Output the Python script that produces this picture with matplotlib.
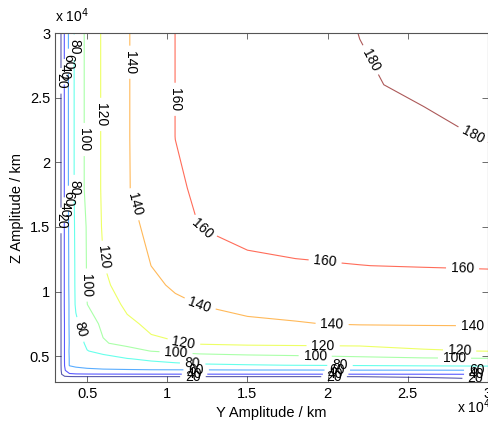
import numpy as np
import matplotlib
matplotlib.use('Agg')
import matplotlib.pyplot as plt

plt.rcParams['font.family'] = ['Liberation Sans', 'DejaVu Sans']

# grid (km)
y_amp = [3000, 3300, 3600, 3900, 4300, 5000, 6000, 7500, 9000, 10500,
         12000, 15000, 18000, 22000, 26000, 30000]
z_amp = [3000, 3300, 3600, 3900, 4300, 4800, 5400, 6000, 7500, 9000,
         10500, 12000, 15000, 18000, 22000, 26000, 30000]

# field values, one row per z_amp entry
field = [
    [5, 5, 5, 5, 5, 5, 5, 5, 5, 5, 5, 5, 5, 5, 6, 8],
    [5, 7, 8, 8, 8, 7.5, 7.5, 7.5, 7.5, 7.5, 7.5, 7.5, 7.5, 8, 16, 24],
    [5, 12, 33, 37, 38.5, 39, 39.2, 39.4, 39.5, 39.5, 39.5, 39.6, 39.6, 39.7, 39.8, 40.2],
    [5, 13, 38, 52, 55, 56, 57, 57.5, 58, 58, 58, 58.5, 58.5, 59, 59, 59.4],
    [5, 13, 40.5, 61, 63, 66, 69, 72, 74.5, 76, 77.5, 79, 80.3, 81.5, 83, 84.3],
    [5, 13, 41, 61, 65, 69, 73.5, 79.4, 83, 86.5, 90, 92.5, 94.5, 96.5, 97.8, 98.8],
    [5, 13, 41, 62, 70, 79.4, 85.2, 93.5, 100.5, 103.5, 106, 107.8, 108, 110, 118, 120.6],
    [5, 13, 41, 61, 70, 83.5, 98.5, 104.8, 117.5, 119.2, 122, 124, 125, 125.5, 126.5, 126.9],
    [5, 13, 41, 62, 76.7, 90.7, 103.8, 117, 123, 126, 133, 139, 139.5, 140.8, 141.2, 141.5],
    [5, 13, 42, 62, 82.5, 99.8, 111.3, 123.1, 129.5, 136, 140.3, 141.6, 143, 144.8, 146.6, 148.4],
    [5, 13, 42, 63, 83.2, 101, 116.8, 127.2, 135.5, 143, 147, 151, 152.5, 153.5, 154.5, 155.3],
    [5, 13, 42, 63, 83.4, 101.1, 119.4, 130.2, 140.1, 146, 152, 159, 159.4, 159.9, 160.5, 161],
    [5, 13, 42, 64, 84.2, 101.5, 122.1, 134.5, 144.4, 152.3, 160.2, 161.5, 162.7, 164.2, 165.6, 167],
    [5, 13, 42, 65, 85.5, 105, 122.7, 138.8, 148.3, 158.5, 161.5, 162.8, 164.8, 167.6, 170.3, 173.1],
    [5, 13, 42, 65, 85.5, 105, 122.7, 138.8, 149.8, 160.1, 161.6, 164.8, 168, 172.3, 176.6, 180.9],
    [5, 13, 42, 65, 85.5, 105, 122.7, 138.8, 149.8, 160.1, 162.4, 167.1, 171.7, 178.5, 182.5, 183.5],
    [5, 13, 42, 65, 85.5, 105, 122.7, 138.8, 149.8, 160.1, 162.7, 167.9, 173.2, 180.2, 184, 187],
]

levels = [20, 40, 60, 80, 100, 120, 140, 160, 180]
tick_vals = [5000, 10000, 15000, 20000, 25000, 30000]
tick_labels = ['0.5', '1', '1.5', '2', '2.5', '3']

# where the labels sit on the lines
label_spots = [
    (22760, 27970), (28970, 21920),
    (10460, 24870), (12080, 14620), (19840, 12290), (28410, 11600),
    (7550, 27740), (7860, 16720), (11960, 8650), (20280, 7560), (29030, 7170),
    (5680, 23700), (5750, 12600), (11020, 6010), (19720, 5930), (28230, 5470),
    (4690, 21760), (4940, 10500), (10530, 4920), (19220, 4690), (27910, 4770),
    (4130, 28900), (4150, 18040), (4440, 7020), (11580, 4300), (20770, 4300),
    (3840, 27800), (3800, 17200), (11800, 3960), (20600, 3960), (29300, 3930),
    (3590, 27000), (3590, 16300), (11700, 3630), (20500, 3630), (29300, 3620),
    (3380, 26300), (3390, 15500), (11600, 3440), (20400, 3440), (29200, 3250),
]

fig = plt.figure(figsize=(4.89, 4.21), dpi=100)
ax = fig.add_axes([0.1125, 0.0926, 0.8855, 0.829])

cs = ax.contour(y_amp, z_amp, np.array(field), levels=levels, cmap='jet',
                vmin=20, vmax=180, linewidths=0.8, alpha=0.65)
lbls = ax.clabel(cs, manual=label_spots, fmt='%d', fontsize=10, colors='k', inline=True)
for t in lbls:
    t.set_alpha(1)
    t.set_color('black')

ax.set_xlim(3000, 30000)
ax.set_ylim(3000, 30000)
ax.set_xticks(tick_vals)
ax.set_xticklabels(tick_labels)
ax.set_yticks(tick_vals)
ax.set_yticklabels(tick_labels)
ax.tick_params(direction='in', top=True, right=True, labelsize=10.5,
               length=4, width=0.6, color='#555555')
for s in ax.spines.values():
    s.set_color('#555555')
    s.set_linewidth(0.8)

ax.set_xlabel('Y Amplitude / km', fontsize=10.5, labelpad=4)
ax.set_ylabel('Z Amplitude / km', fontsize=10.5, labelpad=4)
fig.text(0.113, 0.948, r'x 10$^4$', fontsize=10)
fig.text(0.935, 0.018, r'x 10$^4$', fontsize=10)

fig.savefig('out.png', dpi=100)
